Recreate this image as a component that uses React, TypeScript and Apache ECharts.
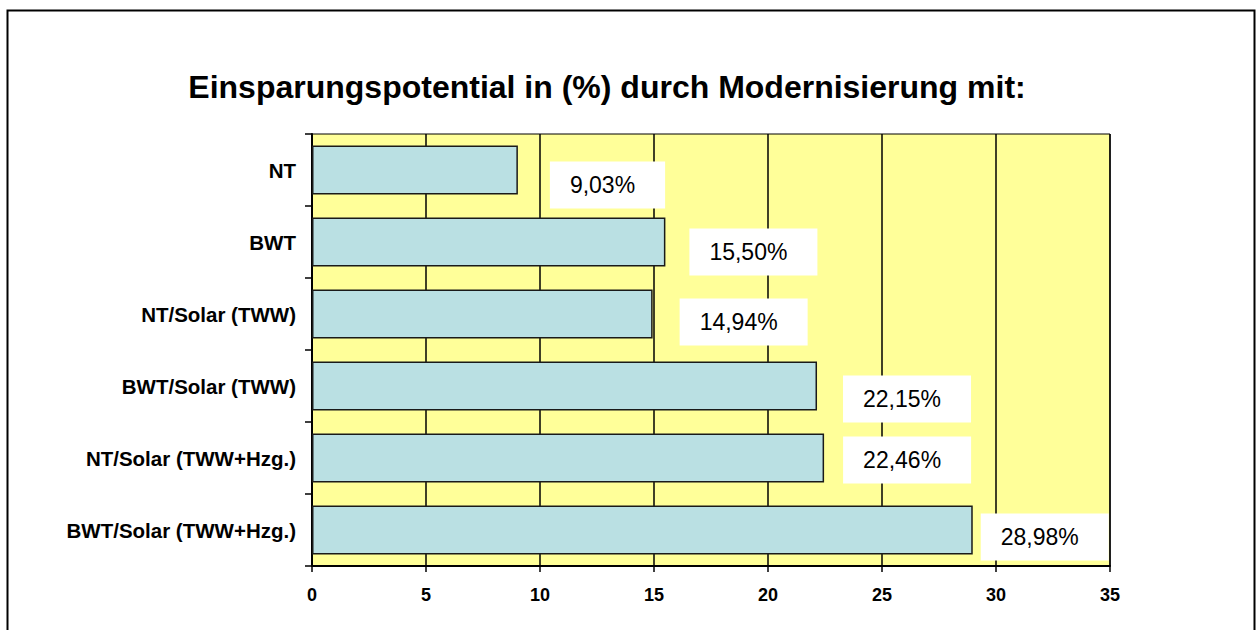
import React, { useEffect, useRef } from "react";
import * as echarts from "echarts";

const categories = [
  "NT",
  "BWT",
  "NT/Solar (TWW)",
  "BWT/Solar (TWW)",
  "NT/Solar (TWW+Hzg.)",
  "BWT/Solar (TWW+Hzg.)",
];
const savings = [9.03, 15.5, 14.94, 22.15, 22.46, 28.98];
const xTicks = { min: 0, max: 35, interval: 5 };
const titleText = "Einsparungspotential in (%) durch Modernisierung mit:";
// manual label placement (dx, dy) relative to bar end, as in the original
const labelOffsets: [number, number][] = [
  [32, 15],
  [24, 10],
  [27, 8],
  [26, 13],
  [19, 2],
  [8, 7],
];

const FONT = "'Liberation Sans', Arial, Helvetica, sans-serif";

export default function App() {
  const ref = useRef<HTMLDivElement>(null);
  useEffect(() => {
    if (!ref.current) return;
    const chart = echarts.init(ref.current, undefined, { renderer: "svg" });
    chart.setOption({
      animation: false,
      backgroundColor: "#ffffff",
      textStyle: { fontFamily: FONT },
      graphic: [
        {
          type: "rect",
          shape: { x: 7.5, y: 10.5, width: 1247, height: 700 },
          style: { fill: "none", stroke: "#000", lineWidth: 2 },
          silent: true,
        },
        {
          type: "text",
          x: 607,
          y: 87,
          style: {
            text: titleText,
            fontFamily: FONT,
            fontWeight: "bold",
            fontSize: 32,
            fill: "#000",
            textAlign: "center",
            textVerticalAlign: "middle",
          },
        },
      ],
      grid: {
        left: 312,
        right: 147,
        top: 134,
        bottom: 64,
        show: true,
        backgroundColor: "#FFFF99",
        borderColor: "#000",
        borderWidth: 1,
      },
      xAxis: {
        type: "value",
        min: xTicks.min,
        max: xTicks.max,
        interval: xTicks.interval,
        axisLine: { show: true, lineStyle: { color: "#000", width: 2 } },
        axisTick: { show: true, inside: false, length: 6, lineStyle: { color: "#000", width: 1.5 } },
        splitLine: { show: true, lineStyle: { color: "#000", width: 1.5 } },
        axisLabel: {
          color: "#000",
          fontWeight: "bold",
          fontSize: 18,
          fontFamily: FONT,
          margin: 20,
        },
      },
      yAxis: {
        type: "category",
        inverse: true,
        data: categories,
        axisLine: { show: true, lineStyle: { color: "#000", width: 2 } },
        axisTick: { show: true, inside: false, length: 7, lineStyle: { color: "#000", width: 1.5 } },
        splitLine: { show: false },
        axisLabel: {
          color: "#000",
          fontWeight: "bold",
          fontSize: 20.5,
          fontFamily: FONT,
          margin: 16,
        },
      },
      series: [
        {
          type: "bar",
          data: savings.map((v, i) => ({
            value: v,
            label: { offset: labelOffsets[i] },
          })),
          barCategoryGap: "32%",
          itemStyle: {
            color: "#BAE0E3",
            borderColor: "#1a1a1a",
            borderWidth: 1.5,
          },
          label: {
            show: true,
            position: "right",
            distance: 0,
            formatter: (p: any) => p.value.toFixed(2).replace(".", ",") + "%",
            backgroundColor: "#ffffff",
            padding: [12, 30, 12, 20],
            fontSize: 23,
            lineHeight: 23,
            color: "#000",
            fontFamily: FONT,
          },
        },
      ],
    });
    return () => chart.dispose();
  }, []);
  return (
    <div
      ref={ref}
      style={{ position: "fixed", left: 0, top: 0, width: 1257, height: 630 }}
    />
  );
}
